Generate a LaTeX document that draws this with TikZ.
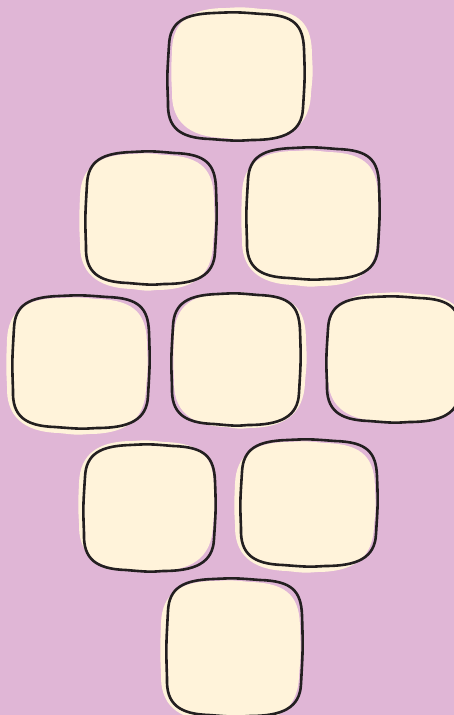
\documentclass[tikz,border=0pt]{standalone}
\definecolor{bgpink}{HTML}{E0B6D6}
\definecolor{cream}{HTML}{FFF3DA}
\definecolor{ink}{HTML}{231F20}
\tikzset{
  blobfill/.style={fill=cream, draw=none},
  blobline/.style={draw=ink, line width=2.6pt, line join=round},
}
% outline: #1 style, #2 x1, #3 y1, #4 x2, #5 y2
\newcommand\sqpath[5]{%
  \path[#1] (#2+1,#3+32) .. controls (#2+2,#3+9) and (#2+16,#3+1) .. (#2+46,#3)
   .. controls ({(#2+#4)/2},#3-1) .. (#4-42,#3+1)
   .. controls (#4-10,#3+2) and (#4-1,#3+12) .. (#4,#3+36)
   .. controls (#4+1,{(#3+#5)/2}) .. (#4-1,#5-32)
   .. controls (#4-2,#5-8) and (#4-20,#5) .. (#4-52,#5)
   .. controls ({(#2+#4)/2},#5+1) .. (#2+42,#5-1)
   .. controls (#2+12,#5-2) and (#2-1,#5-12) .. (#2,#5-38)
   .. controls (#2-1,{(#3+#5)/2}) .. cycle;}
% fill blob: rounder corners, slightly larger
\newcommand\blobpath[5]{%
  \path[#1] (#2-2,#3+40) .. controls (#2-1,#3+10) and (#2+18,#3-2) .. (#2+52,#3-2)
   .. controls ({(#2+#4)/2},#3-3) .. (#4-48,#3-1)
   .. controls (#4-8,#3) and (#4+2,#3+16) .. (#4+2,#3+46)
   .. controls (#4+3,{(#3+#5)/2}) .. (#4+1,#5-44)
   .. controls (#4,#5-10) and (#4-22,#5+2) .. (#4-56,#5+2)
   .. controls ({(#2+#4)/2},#5+3) .. (#2+50,#5+1)
   .. controls (#2+14,#5) and (#2-3,#5-16) .. (#2-2,#5-46)
   .. controls (#2-3,{(#3+#5)/2}) .. cycle;}
% #1 name, #2 x1, #3 y1, #4 x2, #5 y2, #6 dx, #7 dy
\newcommand\tile[7]{%
  \begin{scope}[shift={(#6,#7)}]\blobpath{blobfill}{#2}{#3}{#4}{#5}\end{scope}
  \sqpath{blobline}{#2}{#3}{#4}{#5}
  \coordinate (#1) at ({(#2+#4)/2},{(#3+#5)/2});}
\begin{document}
\begin{tikzpicture}[x=1pt,y=-1pt]
  \useasboundingbox (0,0) rectangle (454,715);
  \fill[bgpink] (0,0) rectangle (454,715);
  \clip (0,0) rectangle (454,715);
  \tile{t1}{168}{13}{304}{140}{6}{-3}
  \tile{t2}{86}{152}{216}{284}{-4}{4}
  \tile{t3}{247}{148}{379}{279}{-3}{5}
  \tile{t4}{13}{296}{149}{428}{-4}{4}
  \tile{t5}{172}{294}{300}{425}{4}{1}
  \tile{t6}{327}{297}{461}{422}{3}{-2}
  \tile{t7}{84}{445}{215}{571}{-3}{-2}
  \tile{t8}{241}{440}{377}{566}{-4}{4}
  \tile{t9}{167}{579}{302}{716}{-4}{4}
\end{tikzpicture}
\end{document}
